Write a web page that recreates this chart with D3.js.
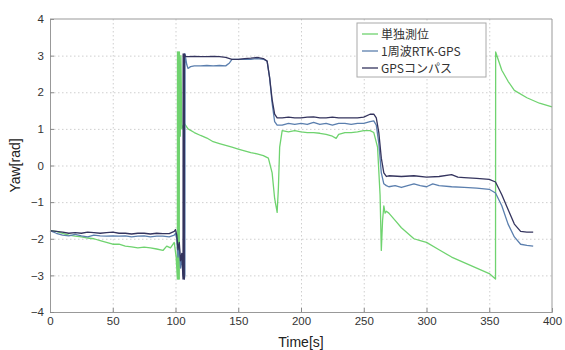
<!DOCTYPE html>
<html>
<head>
<meta charset="utf-8">
<script src="https://cdn.jsdelivr.net/npm/d3@7"></script>
<style>
  html, body { margin: 0; padding: 0; background: #fff; }
  svg { display: block; font-family: "Liberation Sans", Arial, sans-serif; }
</style>
</head>
<body>
<svg id="chart" width="565" height="350"></svg>
<script>
// Yaw angle estimates over time: standalone positioning, single-frequency RTK-GPS, GPS compass
const seriesNames = ["単独測位", "1周波RTK-GPS", "GPSコンパス"];
const seriesColors = ["#6fd36f", "#5b7fae", "#34345e"];

const xTicks = [0, 50, 100, 150, 200, 250, 300, 350, 400];
const yTicks = [-4, -3, -2, -1, 0, 1, 2, 3, 4];

// [time (s), yaw (rad)]
const standalone = [
  [0,-1.78],[5,-1.8],[10,-1.85],[15,-1.9],[20,-1.93],[25,-1.95],[30,-1.98],[35,-2.0],[40,-2.05],
  [45,-2.1],[50,-2.15],[55,-2.15],[60,-2.2],[65,-2.22],[70,-2.25],[75,-2.23],[80,-2.25],[85,-2.28],
  [90,-2.32],[93,-2.2],[96,-2.25],[99,-2.1],[100.5,-2.5],[101.5,-3.1],[101.6,3.1],[102.3,-3.1],
  [102.4,3.1],[103,-3.1],[103.1,3.1],[103.8,0.8],[104.3,3.0],[105,1.0],[107,1.15],[110,1.0],
  [115,0.9],[120,0.82],[125,0.75],[130,0.65],[135,0.6],[140,0.55],[145,0.5],[150,0.45],[155,0.4],
  [160,0.35],[165,0.32],[170,0.27],[174,0.2],[177,-0.2],[179,-0.9],[181,-1.28],[182,-0.6],
  [183,0.5],[185,0.95],[190,0.92],[195,0.95],[200,0.92],[205,0.9],[210,0.9],[215,0.88],[220,0.85],
  [225,0.8],[228,0.74],[230,0.85],[235,0.9],[240,0.9],[245,0.92],[250,0.95],[255,0.95],[258,0.9],
  [261,0.5],[263,-0.8],[264,-2.32],[265,-1.5],[266,-1.1],[267,-1.3],[268,-1.25],[270,-1.3],
  [275,-1.5],[280,-1.7],[285,-1.85],[290,-2.0],[295,-2.05],[300,-2.1],[310,-2.3],[320,-2.5],
  [330,-2.65],[340,-2.8],[350,-2.95],[355,-3.1],[355.1,3.1],[360,2.6],[365,2.3],[370,2.05],
  [380,1.85],[390,1.7],[400,1.6]
];

const rtk = [
  [0,-1.78],[5,-1.85],[10,-1.9],[15,-1.92],[20,-1.88],[25,-1.92],[30,-1.95],[35,-1.9],[40,-1.92],
  [45,-1.93],[50,-1.92],[55,-1.93],[60,-1.92],[65,-1.95],[70,-1.93],[75,-1.92],[80,-1.95],[85,-1.93],
  [90,-1.93],[95,-1.95],[99,-1.9],[100,-1.85],[101,-2.0],[102,-2.5],[103,-2.2],[104,-2.8],[105,-2.5],
  [106,-3.0],[107,-3.1],[107.5,-3.0],[107.6,3.05],[108,2.95],[109,2.75],[110,2.65],[112,2.7],
  [115,2.72],[120,2.72],[125,2.73],[130,2.72],[135,2.73],[140,2.72],[143,2.8],[145,2.9],[150,2.9],
  [155,2.9],[160,2.9],[165,2.92],[170,2.9],[173,2.85],[175,2.4],[177,1.7],[179,1.2],[181,1.1],
  [185,1.1],[190,1.15],[195,1.12],[200,1.15],[205,1.12],[210,1.18],[215,1.12],[220,1.15],[225,1.1],
  [230,1.15],[235,1.15],[240,1.12],[245,1.15],[250,1.15],[255,1.2],[258,1.22],[260,1.1],[262,0.6],
  [264,-0.2],[266,-0.5],[268,-0.55],[270,-0.58],[275,-0.55],[280,-0.6],[285,-0.55],[290,-0.5],
  [295,-0.55],[300,-0.58],[305,-0.5],[310,-0.55],[320,-0.58],[330,-0.6],[340,-0.62],[350,-0.65],
  [355,-0.75],[360,-1.1],[365,-1.6],[370,-1.95],[375,-2.15],[380,-2.18],[385,-2.2]
];

const compass = [
  [0,-1.78],[5,-1.8],[10,-1.82],[15,-1.85],[20,-1.83],[25,-1.85],[30,-1.82],[35,-1.83],[40,-1.85],
  [45,-1.83],[50,-1.82],[55,-1.85],[60,-1.85],[65,-1.87],[70,-1.85],[75,-1.85],[80,-1.87],[85,-1.85],
  [90,-1.86],[95,-1.86],[99,-1.8],[100,-1.75],[101,-1.9],[102,-2.3],[103,-2.1],[104,-2.6],[105,-2.4],
  [106,-3.1],[106.1,3.05],[106.4,-3.0],[106.6,3.0],[107,-3.1],[107.1,3.05],[108,2.97],[110,2.97],
  [115,2.98],[120,2.97],[125,2.97],[130,2.98],[135,2.97],[140,2.95],[145,2.9],[150,2.9],[155,2.92],
  [160,2.93],[165,2.95],[170,2.92],[173,2.85],[175,2.4],[177,1.8],[179,1.4],[181,1.3],[185,1.3],
  [190,1.32],[195,1.3],[200,1.3],[205,1.32],[210,1.33],[215,1.3],[220,1.3],[225,1.32],[230,1.3],
  [235,1.3],[240,1.3],[245,1.3],[250,1.32],[255,1.4],[258,1.4],[260,1.3],[262,0.9],[264,0.2],
  [266,-0.2],[268,-0.3],[270,-0.28],[280,-0.3],[290,-0.28],[300,-0.32],[310,-0.3],[320,-0.25],
  [325,-0.32],[330,-0.33],[340,-0.35],[350,-0.38],[355,-0.45],[360,-0.8],[365,-1.2],[370,-1.6],
  [375,-1.8],[380,-1.82],[385,-1.82]
];

const allSeries = [standalone, rtk, compass];

const svg = d3.select("#chart");
const margin = { left: 50, top: 19, right: 13, bottom: 38 };
const W = 565, H = 350;
const x = d3.scaleLinear().domain([0, 400]).range([margin.left, W - margin.right]);
const y = d3.scaleLinear().domain([-4, 4]).range([H - margin.bottom, margin.top]);

// grid
const grid = svg.append("g").attr("stroke", "#cfcfcf").attr("stroke-width", 1)
  .attr("stroke-dasharray", "1.5,2.5");
grid.selectAll(".gx").data(xTicks.slice(1, -1)).join("line")
  .attr("x1", d => x(d) + 0.5).attr("x2", d => x(d) + 0.5)
  .attr("y1", y(4)).attr("y2", y(-4));
grid.selectAll(".gy").data(yTicks.slice(1, -1)).join("line")
  .attr("x1", x(0)).attr("x2", x(400))
  .attr("y1", d => y(d) + 0.5).attr("y2", d => y(d) + 0.5);

// data lines
const line = d3.line().x(d => x(d[0])).y(d => y(d[1]));
svg.append("g").selectAll("path").data(allSeries).join("path")
  .attr("d", line)
  .attr("fill", "none")
  .attr("stroke", (d, i) => seriesColors[i])
  .attr("stroke-width", 1.3)
  .attr("stroke-linejoin", "round");

// axes (ticks inward, box around plot)
const xAxis = d3.axisBottom(x).tickValues(xTicks).tickSize(-4).tickPadding(5).tickFormat(d3.format("d"));
const yAxis = d3.axisLeft(y).tickValues(yTicks).tickSize(-4).tickPadding(6).tickFormat(d => d < 0 ? "−" + Math.abs(d) : d);
const gx = svg.append("g").attr("transform", `translate(0,${y(-4)})`).call(xAxis);
const gy = svg.append("g").attr("transform", `translate(${x(0)},0)`).call(yAxis);
[gx, gy].forEach(g => {
  g.select(".domain").attr("stroke", "#999");
  g.selectAll(".tick line").attr("stroke", "#888");
  g.selectAll("text").attr("font-size", 11.5).attr("fill", "#333")
    .attr("font-family", "'Liberation Sans', Arial, sans-serif");
});
svg.append("line").attr("x1", x(0)).attr("x2", x(400)).attr("y1", y(4)).attr("y2", y(4)).attr("stroke", "#999");
svg.append("line").attr("x1", x(400)).attr("x2", x(400)).attr("y1", y(4)).attr("y2", y(-4)).attr("stroke", "#999");

// axis titles
svg.append("text").attr("x", (x(0) + x(400)) / 2).attr("y", 347)
  .attr("text-anchor", "middle").attr("font-size", 14).attr("fill", "#222").text("Time[s]");
svg.append("text").attr("transform", `translate(20,${(y(4) + y(-4)) / 2}) rotate(-90)`)
  .attr("text-anchor", "middle").attr("font-size", 14).attr("fill", "#222").text("Yaw[rad]");

// legend
const lg = svg.append("g").attr("transform", "translate(357,23)");
lg.append("rect").attr("width", 129).attr("height", 54).attr("fill", "#fff").attr("stroke", "#aaa");
seriesNames.forEach((name, i) => {
  const row = lg.append("g").attr("transform", `translate(0,${11 + i * 17})`);
  row.append("line").attr("x1", 5).attr("x2", 21).attr("stroke", seriesColors[i]).attr("stroke-width", 1.3);
  row.append("text").attr("x", 24).attr("y", 4.5).attr("font-size", 12).attr("fill", "#333")
    .attr("font-family", "'Noto Sans CJK JP', 'Liberation Sans', sans-serif").text(name);
});
</script>
</body>
</html>
